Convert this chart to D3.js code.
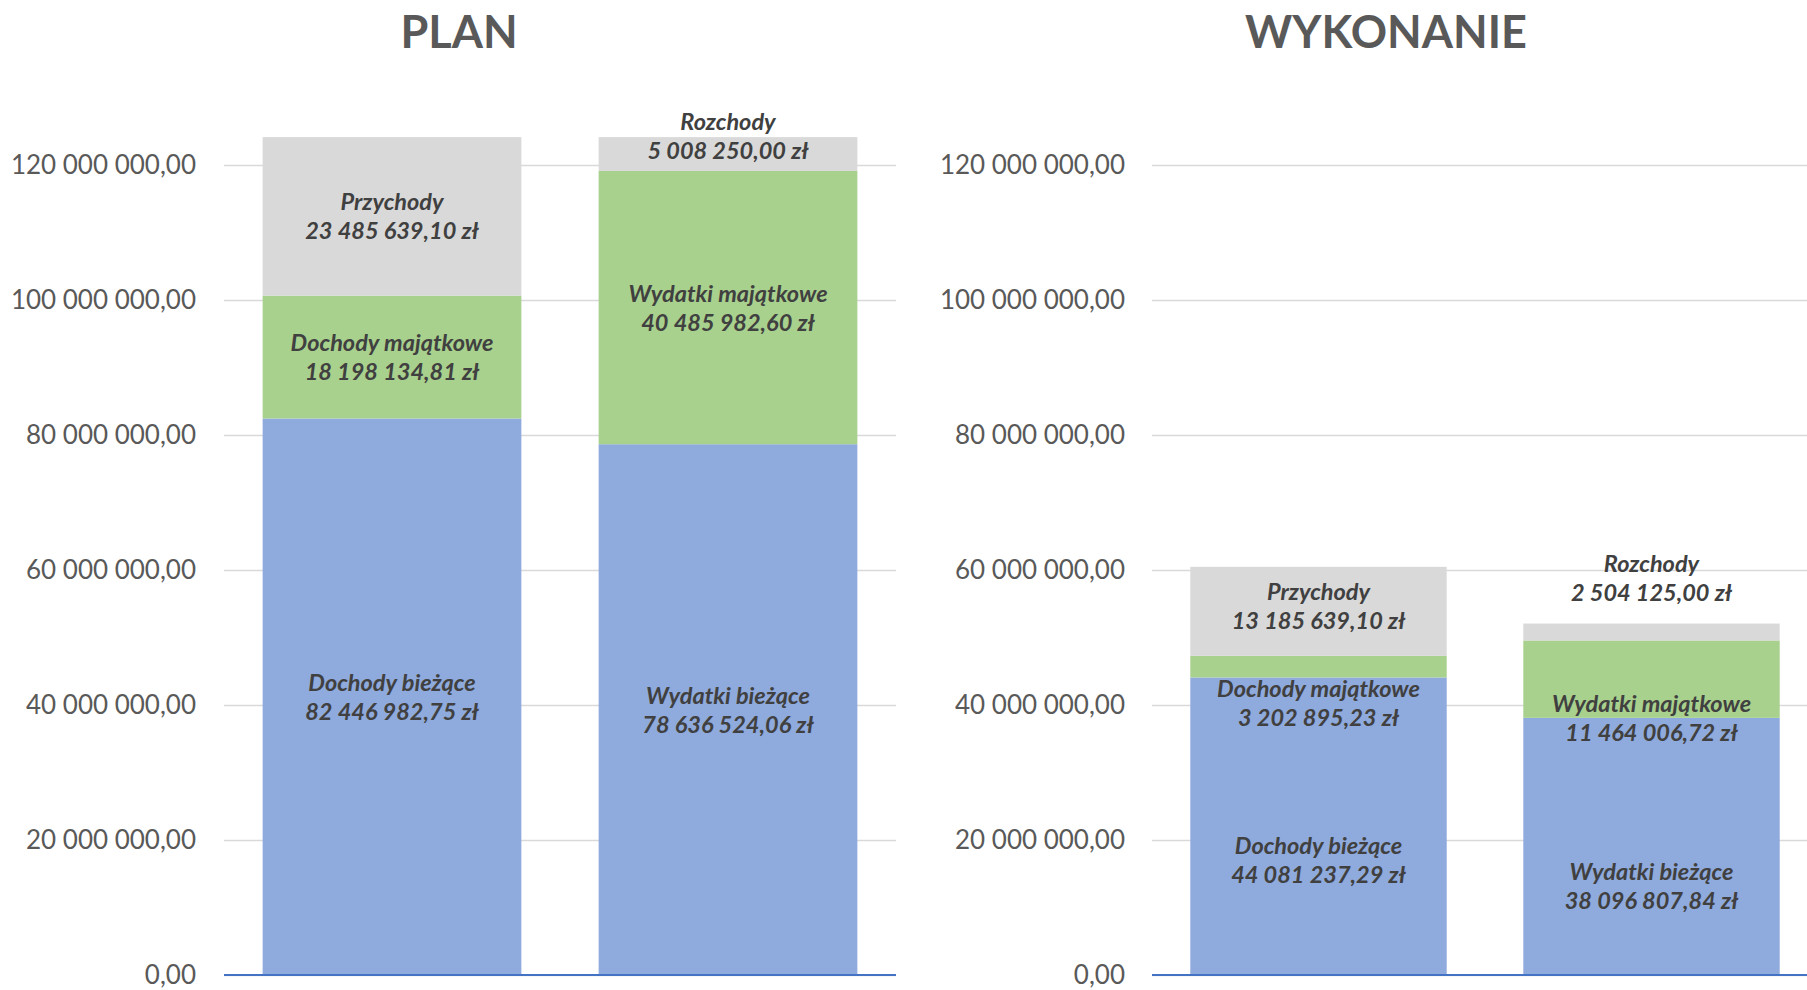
<!DOCTYPE html>
<meta charset="utf-8">
<style>
  body { margin: 0; background: white; }
  svg text { font-family: Lato, "Liberation Sans", sans-serif; }
</style>
<body>
<div id="chart"></div>
<script src="https://d3js.org/d3.v7.min.js"></script>
<script>
// --- data ---
const panelTitles = ["PLAN", "WYKONANIE"];
const barKeys = ["Dochody", "Wydatki"];
const segmentNames = [
  ["Dochody bieżące", "Dochody majątkowe", "Przychody"],
  ["Wydatki bieżące", "Wydatki majątkowe", "Rozchody"]
];
const planValues = [
  [82446982.75, 18198134.81, 23485639.10],
  [78636524.06, 40485982.60, 5008250.00]
];
const wykonanieValues = [
  [44081237.29, 3202895.23, 13185639.10],
  [38096807.84, 11464006.72, 2504125.00]
];
const yTicks = [0, 20000000, 40000000, 60000000, 80000000, 100000000, 120000000];
const segmentColors = ["#8FAADC", "#A9D18E", "#D9D9D9"];

// labels in the original were dragged by hand; pixel nudges per panel / bar / segment
const labelNudge = [
  [[0, 0, 0], [0, 0, -18]],
  [[34, 36, -5], [40, 39, -54]]
];

const width = 1807, height = 990;
const pl = d3.formatLocale({decimal: ",", thousands: " ", grouping: [3], currency: ["", " zł"]});
const fmtTick = pl.format(",.2f");
const fmtMoney = v => pl.format(",.2f")(v) + " zł";

const svg = d3.select("#chart").append("svg")
  .attr("width", width)
  .attr("height", height);

const y = d3.scaleLinear().domain([0, 120000000]).range([975, 165]);

const panels = [
  {title: panelTitles[0], values: planValues, x0: 224, x1: 896, labelX: 196, titleX: 459},
  {title: panelTitles[1], values: wykonanieValues, x0: 1152, x1: 1818, labelX: 1125, titleX: 1386}
];

panels.forEach(function(p, pi) {
  const g = svg.append("g");
  const x = d3.scaleBand().domain(barKeys).range([p.x0, p.x1])
    .paddingInner(0.23).paddingOuter(0.115);

  // title
  g.append("text")
    .attr("x", p.titleX)
    .attr("y", 48)
    .attr("text-anchor", "middle")
    .attr("font-size", 45)
    .attr("font-weight", "bold")
    .attr("fill", "#595959")
    .text(p.title);

  // grid + tick labels
  const axis = d3.axisLeft(y)
    .tickValues(yTicks)
    .tickFormat(fmtTick)
    .tickSize(-(Math.min(p.x1, width) - p.x0))
    .tickPadding(p.x0 - p.labelX);
  const ag = g.append("g")
    .attr("transform", `translate(${p.x0},0)`)
    .call(axis);
  ag.select(".domain").remove();
  ag.selectAll(".tick line").attr("stroke", "#D9D9D9").attr("stroke-width", 1.5);
  ag.selectAll(".tick text")
    .attr("fill", "#595959")
    .attr("font-size", 26)
    .style("font-family", "Lato, 'Liberation Sans', sans-serif");

  // stacked bars
  barKeys.forEach(function(key, bi) {
    let base = 0;
    p.values[bi].forEach(function(v, si) {
      const top = base + v;
      g.append("rect")
        .attr("x", x(key))
        .attr("width", x.bandwidth())
        .attr("y", y(top))
        .attr("height", y(base) - y(top))
        .attr("fill", segmentColors[si]);

      const cx = x(key) + x.bandwidth() / 2;
      const cy = (y(base) + y(top)) / 2 + labelNudge[pi][bi][si];
      const t = g.append("text")
        .attr("x", cx)
        .attr("y", cy)
        .attr("text-anchor", "middle")
        .attr("font-size", 23.5)
        .attr("font-weight", "bold")
        .attr("font-style", "italic")
        .attr("fill", "#404040");
      t.append("tspan")
        .attr("x", cx)
        .attr("dy", -6)
        .text(segmentNames[bi][si]);
      t.append("tspan")
        .attr("x", cx)
        .attr("dy", 29)
        .text(fmtMoney(v));
      base = top;
    });
  });

  // horizontal axis line
  g.append("line")
    .attr("x1", p.x0).attr("x2", Math.min(p.x1, width))
    .attr("y1", y(0)).attr("y2", y(0))
    .attr("stroke", "#4472C4")
    .attr("stroke-width", 2);
});
</script>
</body>
